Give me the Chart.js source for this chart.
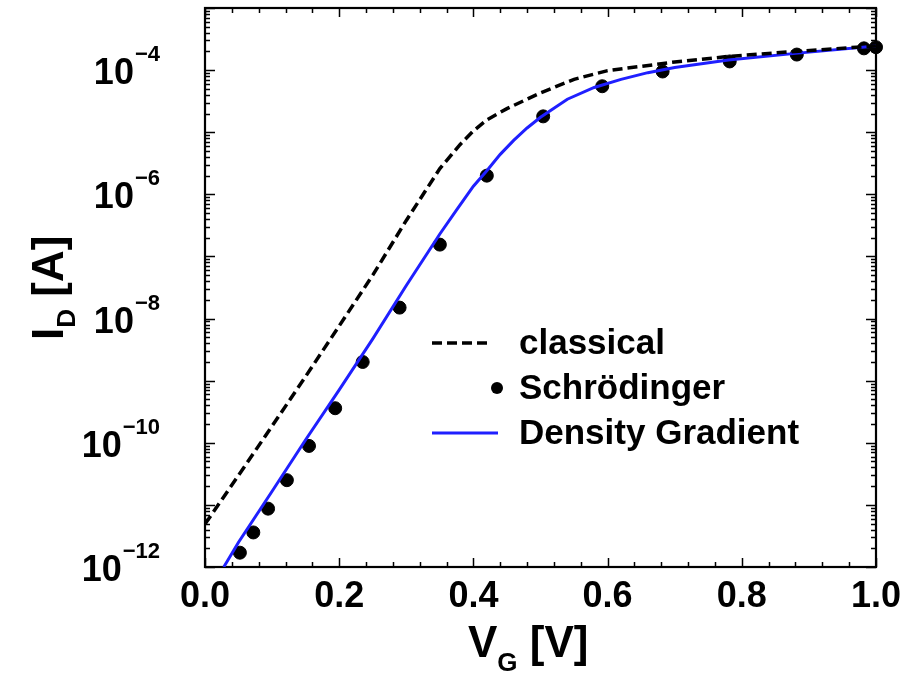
<!DOCTYPE html>
<html>
<head>
<meta charset="utf-8">
<script src="https://cdn.jsdelivr.net/npm/chart.js@4.4.1/dist/chart.umd.min.js"></script>
<style>
  html, body { margin: 0; padding: 0; background: #fff; }
  #wrap { width: 916px; height: 676px; }
</style>
</head>
<body>
<div id="wrap"><canvas id="chart" width="916" height="676"></canvas></div>
<script>
// gate voltage [V] and drain current [A]
const vgClassical = [0.00, 0.05, 0.10, 0.15, 0.20, 0.25, 0.30, 0.35, 0.38, 0.40, 0.42, 0.45, 0.50, 0.55, 0.60, 0.65, 0.70, 0.78, 0.88, 1.00];
const idClassical = [4.9e-12, 3.0e-11, 1.86e-10, 1.17e-9, 7.6e-9, 5.0e-8, 3.8e-7, 2.6e-6, 6.3e-6, 1.05e-5, 1.58e-5, 2.4e-5, 4.3e-5, 7.1e-5, 9.8e-5, 1.15e-4, 1.35e-4, 1.66e-4, 2.0e-4, 2.45e-4];

const vgSchrodinger = [0.052, 0.072, 0.094, 0.122, 0.155, 0.194, 0.235, 0.29, 0.35, 0.42, 0.504, 0.592, 0.682, 0.782, 0.882, 0.982, 1.0];
const idSchrodinger = [1.7e-12, 3.6e-12, 8.7e-12, 2.5e-11, 8.9e-11, 3.6e-10, 2.0e-9, 1.5e-8, 1.55e-7, 2.0e-6, 1.8e-5, 5.5e-5, 9.5e-5, 1.38e-4, 1.78e-4, 2.24e-4, 2.34e-4];

const vgDensity = [0.028, 0.05, 0.10, 0.15, 0.20, 0.25, 0.30, 0.35, 0.375, 0.40, 0.42, 0.44, 0.46, 0.48, 0.50, 0.54, 0.58, 0.62, 0.66, 0.70, 0.78, 0.88, 1.00];
const idDensity = [1.0e-12, 2.5e-12, 1.66e-11, 1.12e-10, 7.1e-10, 4.7e-9, 3.4e-8, 2.3e-7, 5.6e-7, 1.35e-6, 2.4e-6, 4.4e-6, 7.4e-6, 1.17e-5, 1.74e-5, 3.4e-5, 5.25e-5, 7.1e-5, 9.1e-5, 1.1e-4, 1.45e-4, 1.86e-4, 2.45e-4];

const xMajorTicks = [0, 0.2, 0.4, 0.6, 0.8, 1.0];
const yLabelExponents = [-4, -6, -8, -10, -12];
const legendLabels = ['classical', 'Schrödinger', 'Density Gradient'];

const FONT = '"Liberation Sans", Arial, Helvetica, sans-serif';
const BLUE = '#1f1fff';

function toPoints(xs, ys) {
  return xs.map((x, i) => ({ x, y: ys[i] }));
}

const axisDecor = {
  id: 'axisDecor',
  beforeDatasetsDraw(chart) {
    const { ctx, chartArea: a, scales: { x, y } } = chart;
    ctx.save();
    ctx.strokeStyle = '#000';
    ctx.lineWidth = 1.5;
    ctx.beginPath();
    // x ticks: major every 0.2, minor every 0.04
    for (let i = 0; i <= 25; i++) {
      const px = Math.round(x.getPixelForValue(i * 0.04)) + 0.5;
      const len = i % 5 === 0 ? 9 : 5;
      ctx.moveTo(px, a.bottom); ctx.lineTo(px, a.bottom - len);
      ctx.moveTo(px, a.top); ctx.lineTo(px, a.top + len);
    }
    // y ticks: decades and 2..9 minors
    for (let e = -12; e <= -3; e++) {
      for (let m = 1; m <= 9; m++) {
        const v = m * Math.pow(10, e);
        if (v > 1e-3 * 1.0001) continue;
        const py = Math.round(y.getPixelForValue(v)) + 0.5;
        const len = m === 1 ? 10 : 5;
        ctx.moveTo(a.left, py); ctx.lineTo(a.left + len, py);
        ctx.moveTo(a.right, py); ctx.lineTo(a.right - len, py);
      }
    }
    ctx.stroke();
    ctx.lineWidth = 2.2;
    ctx.strokeRect(a.left, a.top, a.right - a.left, a.bottom - a.top);
    ctx.restore();
  },
  afterDraw(chart) {
    const { ctx, scales: { y } } = chart;
    ctx.save();
    ctx.fillStyle = '#000';
    ctx.textBaseline = 'alphabetic';
    ctx.textAlign = 'left';

    // y tick labels 10^n
    yLabelExponents.forEach((e) => {
      const py = y.getPixelForValue(Math.pow(10, e));
      const sup = '\u2212' + Math.abs(e);
      ctx.font = 'bold 36px ' + FONT;
      const wBase = ctx.measureText('10').width;
      ctx.font = 'bold 22px ' + FONT;
      const wSup = ctx.measureText(sup).width;
      const right = 160;
      const x0 = right - wSup - wBase - 1;
      ctx.font = 'bold 36px ' + FONT;
      ctx.fillText('10', x0, py + 14);
      ctx.font = 'bold 22px ' + FONT;
      ctx.fillText(sup, x0 + wBase + 1, py - 9);
    });

    // x axis title V_G [V]
    let tx = 468;
    ctx.font = 'bold 44px ' + FONT;
    ctx.fillText('V', tx, 657);
    tx += ctx.measureText('V').width;
    ctx.font = 'bold 26px ' + FONT;
    ctx.fillText('G', tx, 671);
    tx += ctx.measureText('G').width;
    ctx.font = 'bold 44px ' + FONT;
    ctx.fillText(' [V]', tx, 657);

    // y axis title I_D [A], rotated
    ctx.save();
    ctx.translate(63, 340);
    ctx.rotate(-Math.PI / 2);
    let ty = 0;
    ctx.font = 'bold 44px ' + FONT;
    ctx.fillText('I', ty, 0);
    ty += ctx.measureText('I').width;
    ctx.font = 'bold 26px ' + FONT;
    ctx.fillText('D', ty, 12);
    ty += ctx.measureText('D').width;
    ctx.font = 'bold 44px ' + FONT;
    ctx.fillText(' [A]', ty, 0);
    ctx.restore();

    // legend
    const lx = 432, textX = 519;
    const rows = [343, 388, 433];
    ctx.font = 'bold 35px ' + FONT;
    ctx.textBaseline = 'middle';
    legendLabels.forEach((label, i) => ctx.fillText(label, textX, rows[i] + 1));

    ctx.strokeStyle = '#000';
    ctx.lineWidth = 3.5;
    ctx.setLineDash([10, 5]);
    ctx.beginPath(); ctx.moveTo(lx, rows[0]); ctx.lineTo(lx + 60, rows[0]); ctx.stroke();
    ctx.setLineDash([]);

    ctx.beginPath(); ctx.arc(497, rows[1], 6, 0, Math.PI * 2); ctx.fill();

    ctx.strokeStyle = BLUE;
    ctx.lineWidth = 3;
    ctx.beginPath(); ctx.moveTo(lx, rows[2]); ctx.lineTo(lx + 66, rows[2]); ctx.stroke();
    ctx.restore();
  }
};

new Chart(document.getElementById('chart'), {
  type: 'scatter',
  data: {
    datasets: [
      {
        label: legendLabels[0],
        data: toPoints(vgClassical, idClassical),
        showLine: true,
        borderColor: '#000',
        borderWidth: 3.5,
        borderDash: [10, 5],
        pointRadius: 0,
        tension: 0
      },
      {
        label: legendLabels[2],
        data: toPoints(vgDensity, idDensity),
        showLine: true,
        borderColor: BLUE,
        borderWidth: 3,
        pointRadius: 0,
        tension: 0
      },
      {
        label: legendLabels[1],
        data: toPoints(vgSchrodinger, idSchrodinger),
        showLine: false,
        backgroundColor: '#000',
        borderColor: '#000',
        pointRadius: 6.5,
        pointHoverRadius: 6.5,
        clip: false
      }
    ]
  },
  options: {
    responsive: false,
    animation: false,
    devicePixelRatio: 1,
    layout: { padding: { top: 8, right: 40, left: 0, bottom: 0 } },
    plugins: { legend: { display: false }, tooltip: { enabled: false } },
    scales: {
      x: {
        type: 'linear',
        min: 0,
        max: 1,
        grid: { display: false, drawTicks: false },
        border: { display: false },
        afterBuildTicks: (s) => { s.ticks = xMajorTicks.map((v) => ({ value: v })); },
        ticks: {
          color: '#000',
          padding: 8,
          maxRotation: 0,
          autoSkip: false,
          font: { family: FONT, size: 36, weight: 'bold' },
          callback: (v) => Number(v).toFixed(1)
        },
        afterFit: (s) => { s.height = 109; }
      },
      y: {
        type: 'logarithmic',
        min: 1e-12,
        max: 1e-3,
        grid: { display: false, drawTicks: false },
        border: { display: false },
        ticks: { display: false },
        afterFit: (s) => { s.width = 205; }
      }
    }
  },
  plugins: [axisDecor]
});
</script>
</body>
</html>
